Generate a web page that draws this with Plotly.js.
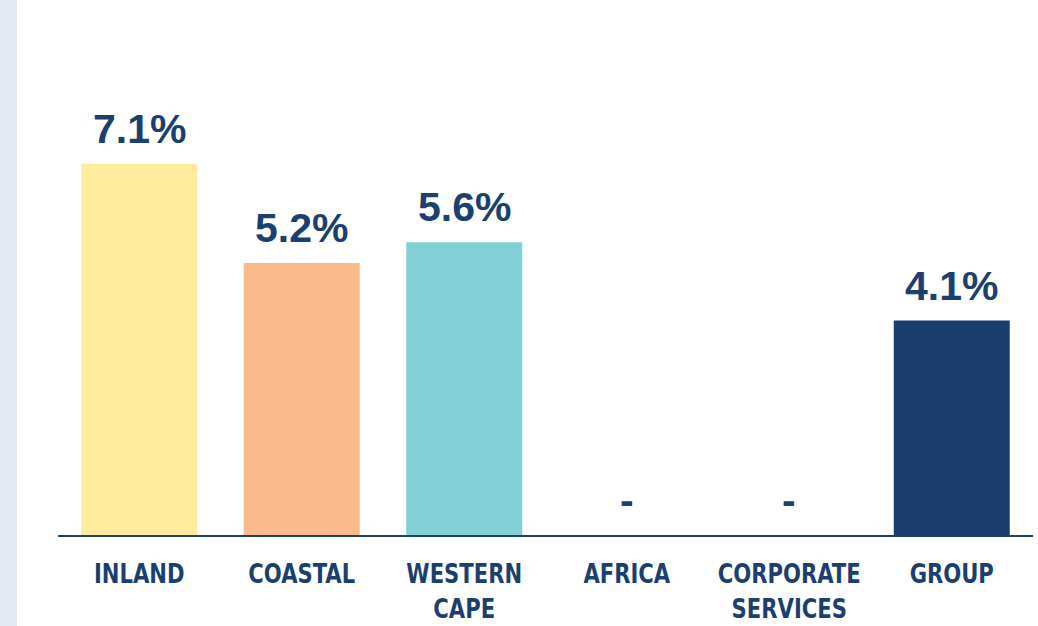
<!DOCTYPE html>
<html>
<head>
<meta charset="utf-8">
<script src="https://cdn.plot.ly/plotly-3.0.1.min.js"></script>
<style>
html,body{margin:0;padding:0;background:#fff;}
#strip{position:absolute;left:0;top:0;width:17px;height:626px;background:#e3e9f1;z-index:2;}
#chart{position:absolute;left:0;top:0;width:1038px;height:626px;}
</style>
</head>
<body>
<div id="chart"></div>
<div id="strip"></div>
<script>
const categories = ["INLAND", "COASTAL", "WESTERN<br>CAPE", "AFRICA", "CORPORATE<br>SERVICES", "GROUP"];
const values = [7.1, 5.2, 5.6, 0, 0, 4.1];
const valueLabels = ["7.1%", "5.2%", "5.6%", "-", "-", "4.1%"];
const barColors = ["#feeb9b", "#fab98a", "#82d0d5", "#ffffff", "#ffffff", "#1b3e6f"];

const navy = "#1b3f6f";

const trace = {
  type: "bar",
  x: categories,
  y: values,
  marker: {color: barColors, line: {width: 0}},
  hoverinfo: "none"
};

const annotations = categories.map((c, i) => ({
  x: c, y: values[i], xref: "x", yref: "y",
  text: valueLabels[i], showarrow: false,
  yanchor: "bottom", yshift: 10,
  font: {family: "Liberation Sans, Arial, sans-serif", size: 41, color: navy, weight: 700}
}));

const layout = {
  width: 1038, height: 626,
  margin: {l: 58, r: 5, t: 0, b: 91},
  paper_bgcolor: "#ffffff", plot_bgcolor: "#ffffff",
  showlegend: false,
  bargap: 0.286,
  xaxis: {
    type: "category",
    showline: true, linecolor: navy, linewidth: 2,
    showgrid: false, zeroline: false, ticks: "",
    tickfont: {family: "Liberation Sans Narrow, DejaVu Sans Condensed, Arial Narrow, sans-serif", size: 27, color: navy, weight: 700},
    ticklabelstandoff: 14
  },
  yaxis: {
    range: [0, 10.23], visible: false, showgrid: false, zeroline: false, fixedrange: true
  },
  annotations: annotations
};

Plotly.newPlot("chart", [trace], layout, {displayModeBar: false, staticPlot: true}).then(() => {
  document.querySelectorAll("#chart .xtick text").forEach(t => {
    const bb = t.getBBox();
    const cx = bb.x + bb.width / 2;
    const prev = t.getAttribute("transform") || "";
    t.setAttribute("transform", prev + " translate(" + cx + ",0) scale(0.87,1) translate(" + (-cx) + ",0)");
  });
});
</script>
</body>
</html>
